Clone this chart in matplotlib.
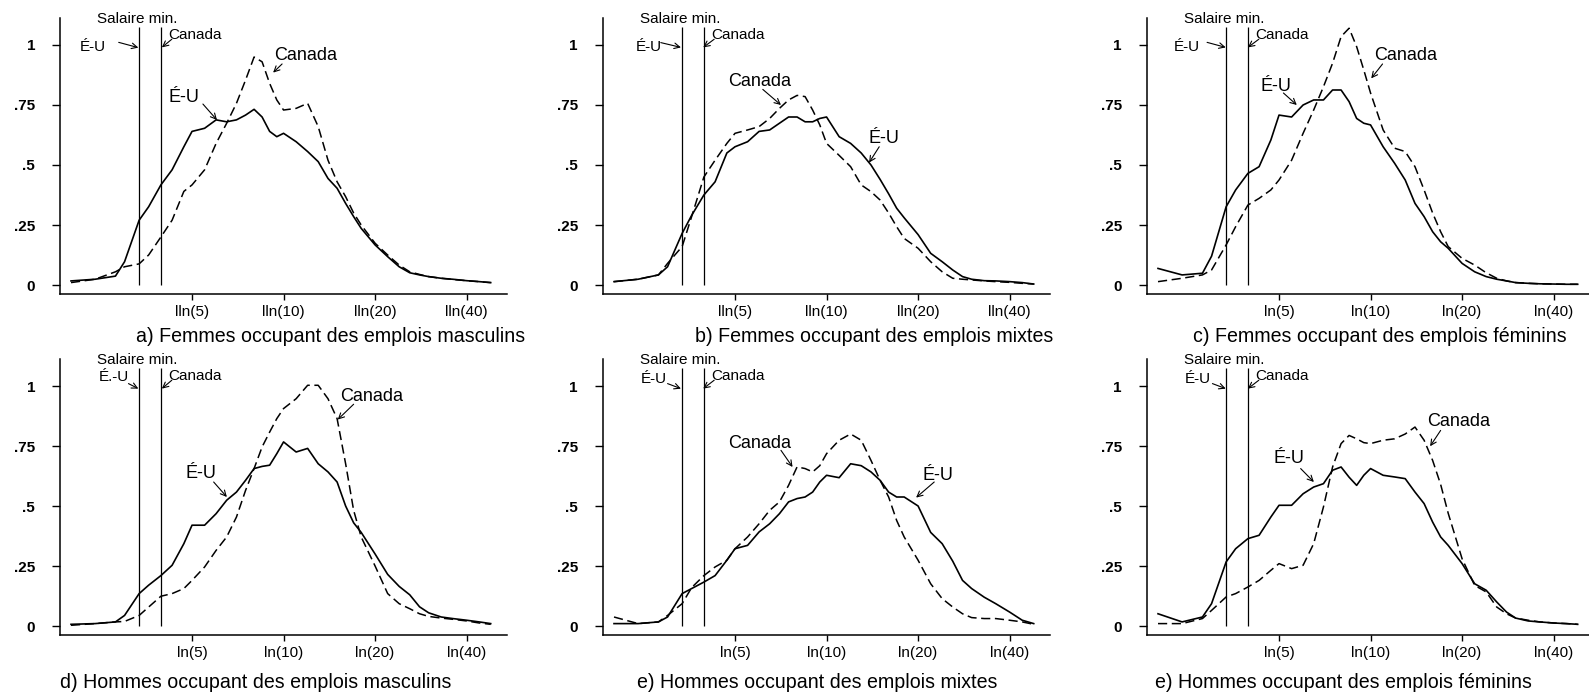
import numpy as np
import matplotlib
matplotlib.use('Agg')
import matplotlib.pyplot as plt

plt.rcParams['font.family'] = ['Liberation Sans', 'DejaVu Sans']

# salaire horaire ($), axe en log
salaire = [2, 2.4, 2.8, 3.0, 3.35, 3.6, 3.95, 4.3, 4.7, 5, 5.5, 6, 6.5, 7, 7.5,
           8, 8.5, 9, 9.5, 10, 11, 12, 13, 14, 15, 16, 17, 18, 20, 22, 24, 26,
           28, 30, 33, 36, 40, 44, 48]

# densites (É-U = trait plein, Canada = tirets)
eu_a = [0.017, 0.024, 0.037, 0.097, 0.27, 0.326, 0.417, 0.48, 0.576, 0.64, 0.653, 0.688, 0.68,
        0.688, 0.708, 0.732, 0.70, 0.64, 0.618, 0.632, 0.597, 0.556, 0.514, 0.444, 0.403, 0.34,
        0.285, 0.236, 0.167, 0.118, 0.076, 0.051, 0.042, 0.035, 0.028, 0.024, 0.018, 0.014, 0.01]
ca_a = [0.01, 0.024, 0.055, 0.076, 0.088, 0.125, 0.2, 0.27, 0.39, 0.417, 0.48, 0.59, 0.674,
        0.757, 0.854, 0.95, 0.93, 0.84, 0.771, 0.729, 0.736, 0.757, 0.66, 0.52, 0.43, 0.368,
        0.3, 0.25, 0.174, 0.125, 0.083, 0.055, 0.044, 0.035, 0.028, 0.023, 0.018, 0.014, 0.01]
eu_b = [0.014, 0.024, 0.042, 0.076, 0.215, 0.29, 0.375, 0.43, 0.55, 0.576, 0.597, 0.64, 0.646,
        0.674, 0.70, 0.70, 0.68, 0.68, 0.694, 0.70, 0.618, 0.59, 0.55, 0.50, 0.44, 0.38,
        0.32, 0.28, 0.21, 0.132, 0.097, 0.0625, 0.035, 0.024, 0.018, 0.017, 0.014, 0.01, 0.004]
ca_b = [0.014, 0.024, 0.042, 0.09, 0.16, 0.285, 0.45, 0.52, 0.59, 0.632, 0.646, 0.66, 0.694,
        0.736, 0.771, 0.79, 0.785, 0.729, 0.667, 0.59, 0.54, 0.493, 0.417, 0.389, 0.354, 0.30,
        0.243, 0.194, 0.153, 0.097, 0.055, 0.028, 0.024, 0.021, 0.017, 0.014, 0.011, 0.007, 0.004]
eu_c = [0.069, 0.042, 0.049, 0.12, 0.326, 0.396, 0.465, 0.493, 0.604, 0.708, 0.70, 0.75, 0.771,
        0.771, 0.8125, 0.8125, 0.764, 0.694, 0.674, 0.667, 0.576, 0.507, 0.4375, 0.34, 0.285,
        0.222, 0.18, 0.153, 0.09, 0.055, 0.035, 0.024, 0.017, 0.01, 0.007, 0.005, 0.004, 0.003, 0.003]
ca_c = [0.014, 0.028, 0.042, 0.0625, 0.167, 0.243, 0.333, 0.361, 0.396, 0.4375, 0.52, 0.632,
        0.729, 0.826, 0.924, 1.035, 1.07, 0.993, 0.896, 0.80, 0.646, 0.57, 0.556, 0.493, 0.396,
        0.30, 0.222, 0.16, 0.111, 0.083, 0.051, 0.028, 0.017, 0.01, 0.007, 0.005, 0.004, 0.003, 0.003]
eu_d = [0.007, 0.01, 0.017, 0.044, 0.135, 0.17, 0.21, 0.253, 0.343, 0.42, 0.42, 0.468, 0.524,
        0.558, 0.607, 0.656, 0.665, 0.67, 0.718, 0.767, 0.725, 0.74, 0.676, 0.642, 0.60, 0.50,
        0.43, 0.39, 0.30, 0.215, 0.165, 0.13, 0.08, 0.055, 0.0375, 0.031, 0.024, 0.017, 0.01]
ca_d = [0.003, 0.01, 0.017, 0.019, 0.044, 0.079, 0.124, 0.135, 0.156, 0.19, 0.246, 0.315, 0.371,
        0.454, 0.565, 0.656, 0.746, 0.808, 0.864, 0.906, 0.947, 1.003, 1.003, 0.947, 0.864,
        0.676, 0.482, 0.371, 0.25, 0.135, 0.093, 0.072, 0.051, 0.04, 0.033, 0.028, 0.021, 0.0125, 0.007]
eu_e = [0.01, 0.01, 0.017, 0.0375, 0.135, 0.156, 0.183, 0.21, 0.274, 0.322, 0.336, 0.392, 0.426,
        0.468, 0.517, 0.531, 0.5375, 0.558, 0.6, 0.628, 0.618, 0.676, 0.668, 0.642, 0.607, 0.558,
        0.5375, 0.5375, 0.50, 0.39, 0.343, 0.27, 0.19, 0.156, 0.12, 0.093, 0.058, 0.024, 0.01]
ca_e = [0.0375, 0.01, 0.017, 0.044, 0.093, 0.16, 0.21, 0.246, 0.274, 0.322, 0.371, 0.426, 0.482,
        0.517, 0.586, 0.663, 0.656, 0.642, 0.668, 0.718, 0.774, 0.8, 0.774, 0.69, 0.607, 0.5375,
        0.44, 0.371, 0.274, 0.176, 0.114, 0.079, 0.051, 0.035, 0.031, 0.031, 0.024, 0.017, 0.007]
eu_f = [0.051, 0.017, 0.0375, 0.093, 0.267, 0.322, 0.364, 0.378, 0.454, 0.503, 0.503, 0.551,
        0.579, 0.593, 0.649, 0.6625, 0.62, 0.586, 0.628, 0.656, 0.628, 0.621, 0.614, 0.558, 0.51,
        0.433, 0.371, 0.336, 0.26, 0.176, 0.149, 0.1, 0.058, 0.033, 0.021, 0.017, 0.0125, 0.01, 0.007]
ca_f = [0.01, 0.01, 0.031, 0.065, 0.121, 0.135, 0.1625, 0.19, 0.232, 0.26, 0.239, 0.253, 0.343,
        0.496, 0.6625, 0.76, 0.794, 0.78, 0.764, 0.76, 0.774, 0.78, 0.8, 0.829, 0.774, 0.69,
        0.59, 0.47, 0.28, 0.169, 0.142, 0.079, 0.051, 0.033, 0.024, 0.017, 0.0125, 0.01, 0.007]

min_eu = 3.35
min_ca = 3.95

ticks_x = [5, 10, 20, 40]
lab_x_haut = ['lln(5)', 'lln(10)', 'lln(20)', 'lln(40)']
lab_x = ['ln(5)', 'ln(10)', 'ln(20)', 'ln(40)']
ticks_y = [0, .25, .5, .75, 1]
lab_y = ['0', '.25', '.5', '.75', '1']

titres = ['a) Femmes occupant des emplois masculins',
          'b) Femmes occupant des emplois mixtes',
          'c) Femmes occupant des emplois féminins',
          'd) Hommes occupant des emplois masculins',
          'e) Hommes occupant des emplois mixtes',
          'e) Hommes occupant des emplois féminins']

W, H = 1589, 693
fig = plt.figure(figsize=(W / 100, H / 100), dpi=100)

# mise en page (pixels)
lefts = [60, 603, 1147]
rows = [(18, 294), (359, 635)]
cap_pos = [(136, 336), (695, 336), (1193, 336), (60, 682), (637, 682), (1155, 682)]

# (texte, pos texte, debut fleche, pointe fleche)
notes = [
    dict(sal=(2.43, 1.108), meu=('É-U', (2.13, 0.993), (2.87, 1.011), (3.33, 0.989)),
         mca=((4.19, 1.042), (4.29, 1.024), (3.98, 0.99)),
         cca=((9.33, 0.958), (9.89, 0.921), (9.24, 0.885)),
         ceu=((4.19, 0.78), (5.43, 0.754), (6.04, 0.6875))),
    dict(sal=(2.44, 1.108), meu=('É-U', (2.35, 0.993), (2.85, 1.01), (3.32, 0.99)),
         mca=((4.19, 1.042), (4.27, 1.024), (3.93, 0.99)),
         cca=((4.76, 0.85), (6.17, 0.815), (7.08, 0.75)),
         ceu=((13.77, 0.611), (14.9, 0.576), (13.8, 0.51))),
    dict(sal=(2.44, 1.108), meu=('É-U', (2.26, 0.993), (2.9, 1.011), (3.34, 0.99)),
         mca=((4.19, 1.042), (4.29, 1.024), (3.95, 0.99)),
         cca=((10.27, 0.958), (10.95, 0.921), (10.05, 0.861)),
         ceu=((4.33, 0.829), (5.17, 0.8), (5.72, 0.75))),
    dict(sal=(2.43, 1.107), meu=('É.-U', (2.46, 1.0375), (3.09, 1.01), (3.33, 0.989)),
         mca=((4.19, 1.04), (4.29, 1.024), (3.98, 0.989)),
         cca=((15.3, 0.958), (17.0, 0.924), (15.07, 0.86)),
         ceu=((4.75, 0.635), (5.89, 0.6), (6.51, 0.5375))),
    dict(sal=(2.44, 1.107), meu=('É-U', (2.44, 1.03), (3.0, 1.01), (3.32, 0.989)),
         mca=((4.19, 1.04), (4.27, 1.024), (3.93, 0.989)),
         cca=((4.76, 0.76), (7.08, 0.732), (7.73, 0.6625)),
         ceu=((20.6, 0.628), (22.6, 0.6), (19.7, 0.535))),
    dict(sal=(2.44, 1.107), meu=('É-U', (2.44, 1.03), (3.02, 1.01), (3.34, 0.989)),
         mca=((4.19, 1.04), (4.29, 1.024), (3.95, 0.989)),
         cca=((15.3, 0.85), (17.0, 0.815), (15.7, 0.749)),
         ceu=((4.79, 0.697), (5.89, 0.656), (6.51, 0.6))),
]

series = [(eu_a, ca_a), (eu_b, ca_b), (eu_c, ca_c), (eu_d, ca_d), (eu_e, ca_e), (eu_f, ca_f)]
arr = dict(arrowstyle='->', color='black', lw=0.8, shrinkA=0, shrinkB=0)


def fleche(ax, a, b):
    ax.annotate('', xy=b, xytext=a, arrowprops=arr)


for i in range(6):
    r, c = divmod(i, 3)
    top, bot = rows[r]
    ax = fig.add_axes([lefts[c] / W, 1 - bot / H, 447 / W, (bot - top) / H])
    eu, ca = series[i]
    ax.plot(salaire, eu, color='black', lw=1.2)
    ax.plot(salaire, ca, color='black', lw=1.1, linestyle=(0, (6, 3)))
    ax.vlines([min_eu, min_ca], 0, 1.075, color='black', lw=0.9)
    ax.set_xscale('log')
    ax.set_xlim(1.84, 54.3)
    ax.set_ylim(-0.0375, 1.1125)
    ax.set_xticks(ticks_x)
    ax.set_xticklabels(lab_x_haut if i < 2 else lab_x, fontsize=11)
    ax.xaxis.set_minor_locator(matplotlib.ticker.NullLocator())
    ax.set_yticks(ticks_y)
    ax.set_yticklabels(lab_y, fontsize=11, fontweight='bold')
    ax.tick_params(axis='y', length=6, width=1, pad=12)
    ax.tick_params(axis='x', length=4.5, width=1, pad=3.5)
    for s in ['top', 'right']:
        ax.spines[s].set_visible(False)
    for s in ['left', 'bottom']:
        ax.spines[s].set_linewidth(1.1)
    ax.patch.set_visible(False)

    n = notes[i]
    ax.text(*n['sal'], 'Salaire min.', fontsize=11, ha='left', va='center')
    lab, p, a, b = n['meu']
    ax.text(*p, lab, fontsize=11, ha='left', va='center')
    fleche(ax, a, b)
    p, a, b = n['mca']
    ax.text(*p, 'Canada', fontsize=11, ha='left', va='center')
    fleche(ax, a, b)
    p, a, b = n['cca']
    ax.text(*p, 'Canada', fontsize=13, ha='left', va='center')
    fleche(ax, a, b)
    p, a, b = n['ceu']
    ax.text(*p, 'É-U', fontsize=13, ha='left', va='center')
    fleche(ax, a, b)

    cx, cy = cap_pos[i]
    fig.text(cx / W, 1 - cy / H, titres[i], fontsize=14.1, ha='left', va='center')

fig.savefig('out.png', dpi=100)
